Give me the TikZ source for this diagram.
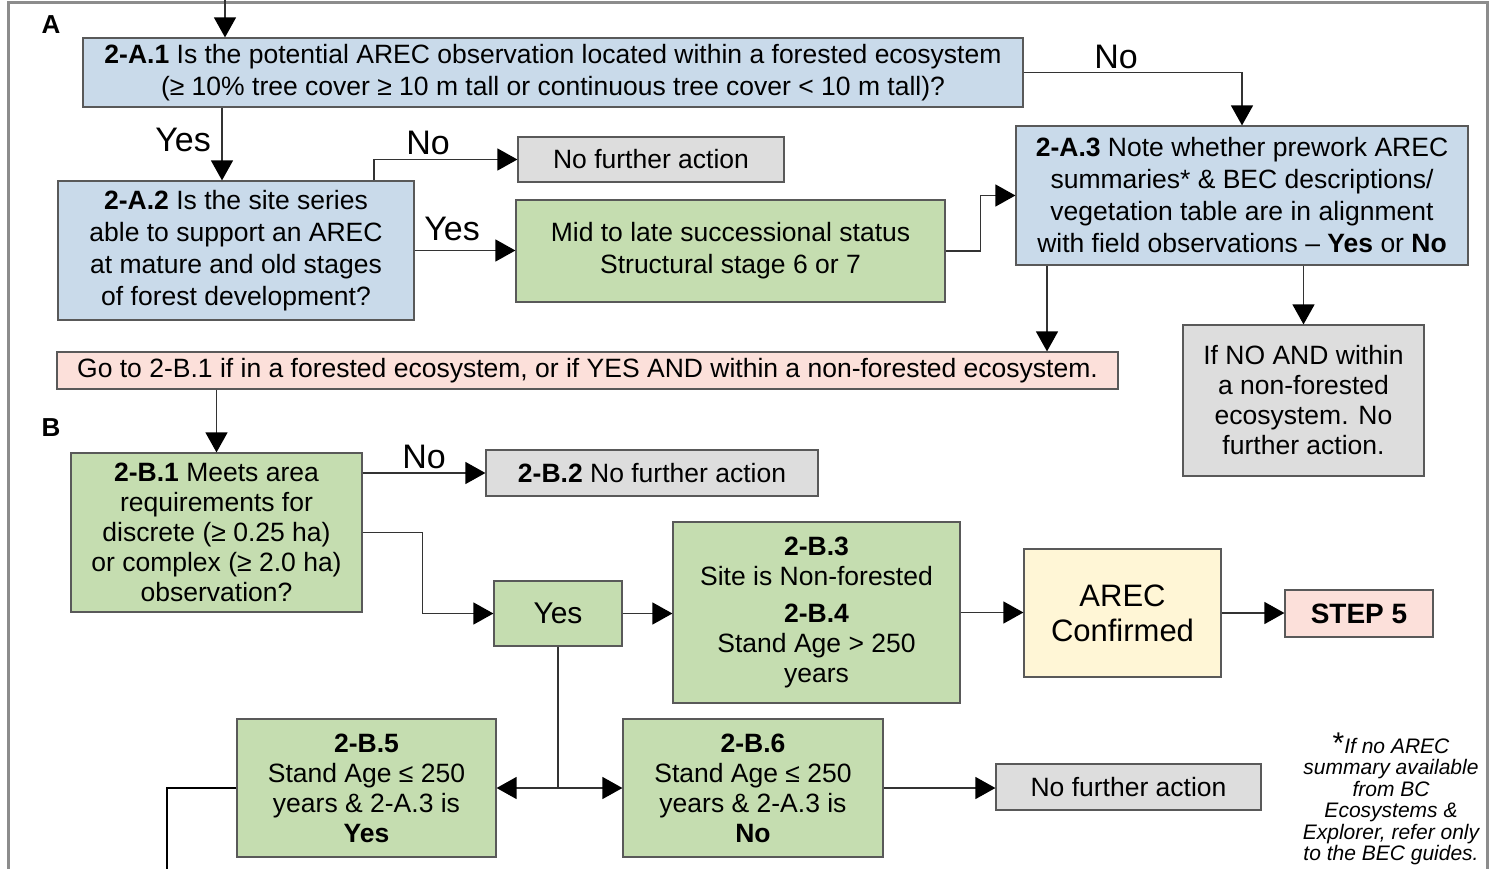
\documentclass[tikz,border=0pt]{standalone}
\usepackage{fontspec}
\setmainfont{Liberation Sans}
\usetikzlibrary{arrows.meta,positioning}

\definecolor{boxblue}{RGB}{201,218,234}
\definecolor{boxgreen}{RGB}{197,221,176}
\definecolor{boxgrey}{RGB}{221,221,221}
\definecolor{boxpink}{RGB}{252,224,218}
\definecolor{boxyellow}{RGB}{255,246,214}
\definecolor{framegrey}{RGB}{140,140,140}

\begin{document}
\begin{tikzpicture}[x=1pt,y=-1pt,->,>={Triangle[width=22pt,length=20pt,color=black]},
                    line width=1.3pt,draw=black!80,
                    box/.style={draw=black!65,line width=1.2pt,align=center,
                                inner sep=0pt,font=\fontsize{26.5}{32}\selectfont},
                    boxb/.style={box,font=\fontsize{26.5}{30}\selectfont},
                    qblue/.style={box,fill=boxblue},
                    qgreen/.style={boxb,fill=boxgreen},
                    stopbox/.style={boxb,fill=boxgrey},
                    lbl/.style={font=\fontsize{34}{34}\selectfont,inner sep=0pt},
                    part/.style={font=\fontsize{26}{26}\selectfont\bfseries,inner sep=0pt}]
    \useasboundingbox (0,0) rectangle (1497,869);

    % frame of the page
    \draw[-,framegrey,line width=3pt] (8,869) -- (8,3) -- (1487,3) -- (1487,869);
    \node[part] (partA) at (51,25)  {A};
    \node[part] (partB) at (51,428) {B};

    % part A
    \node[qblue,minimum width=940pt,minimum height=69pt]  (a1) at (553,72.5)
        {\textbf{2-A.1} Is the potential AREC observation located within a forested ecosystem\\
         (≥ 10\% tree cover ≥ 10 m tall or continuous tree cover < 10 m tall)?};
    \node[qblue,minimum width=356pt,minimum height=139pt] (a2) at (236,250.5)
        {\textbf{2-A.2} Is the site series\\ able to support an AREC\\
         at mature and old stages\\ of forest development?};
    \node[stopbox,minimum width=266pt,minimum height=45pt] (nfa1) at (651,159.5)
        {No further action};
    \node[qgreen,font=\fontsize{26.5}{32}\selectfont,minimum width=429pt,minimum height=102pt] (mid) at (730.5,251)
        {Mid to late successional status\\ Structural stage 6 or 7};
    \node[qblue,minimum width=452pt,minimum height=139pt] (a3) at (1242,195.5)
        {\textbf{2-A.3} Note whether prework AREC\\ summaries* \& BEC descriptions/\\
         vegetation table are in alignment\\ with field observations -- \textbf{Yes} or \textbf{No}};
    \node[boxb,fill=boxpink,minimum width=1061pt,minimum height=37pt] (goto) at (587.5,370.5)
        {Go to 2-B.1 if in a forested ecosystem, or if YES AND within a non-forested ecosystem.};
    \node[stopbox,minimum width=241pt,minimum height=151pt] (ano) at (1303.5,400.5)
        {If NO AND within\\ a non-forested\\ ecosystem. No\\ further action.};

    \coordinate (entry) at (225,0);
    \draw (entry) -- (entry |- a1.north);
    \draw ([xshift=-331pt]a1.south) -- ([xshift=-331pt]a1.south |- a2.north);
    \draw (a1.east) -| (a3.north);
    \draw ([xshift=138pt]a2.north) |- (nfa1.west);
    \draw (a2.east) -- (a2.east -| mid.west);
    \draw (mid.east) -- ++(35,0) |- (a3.west);
    \draw ([xshift=-195pt]a3.south) -- ([xshift=-195pt]a3.south |- goto.north);
    \draw (a3.south -| ano.north) -- (ano.north);

    \node[lbl] (yesA2) at (183,140) {Yes};
    \node[lbl] (noA1)  at (1116,57) {No};
    \node[lbl] (noA2)  at (428,143) {No};
    \node[lbl] (yesA3) at (452,229) {Yes};

    % part B
    \node[qgreen,minimum width=291pt,minimum height=159pt] (b1) at (216.5,532.5)
        {\textbf{2-B.1} Meets area\\ requirements for\\ discrete (≥ 0.25 ha)\\
         or complex (≥ 2.0 ha)\\ observation?};
    \node[stopbox,minimum width=332pt,minimum height=46pt] (b2) at (652,473)
        {\textbf{2-B.2} No further action};
    \node[qgreen,font=\fontsize{30}{30}\selectfont,minimum width=128pt,minimum height=65pt] (yes) at (558,613.5)
        {Yes};
    \node[qgreen,minimum width=287pt,minimum height=181pt] (b34) at (816.5,612.5)
        {\textbf{2-B.3}\\ Site is Non-forested\\[7pt] \textbf{2-B.4}\\ Stand Age > 250\\ years};
    \node[boxb,fill=boxyellow,font=\fontsize{31}{35}\selectfont,minimum width=197pt,minimum height=128pt] (arec) at (1122.5,613)
        {AREC\\ Confirmed};
    \node[boxb,fill=boxpink,font=\fontsize{28}{28}\selectfont\bfseries,minimum width=148pt,minimum height=47pt] (step) at (1359,613.5)
        {STEP 5};
    \node[qgreen,minimum width=259pt,minimum height=138pt] (b5) at (366.5,788)
        {\textbf{2-B.5}\\ Stand Age ≤ 250\\ years \& 2-A.3 is\\ \textbf{Yes}};
    \node[qgreen,minimum width=260pt,minimum height=138pt] (b6) at (753,788)
        {\textbf{2-B.6}\\ Stand Age ≤ 250\\ years \& 2-A.3 is\\ \textbf{No}};
    \node[stopbox,minimum width=265pt,minimum height=46pt] (nfa3) at (1128.5,787)
        {No further action};

    \draw (goto.south -| b1.north) -- (b1.north);
    \draw (b1.east |- b2.west) -- (b2.west);
    \draw (b1.east) -- ++(60,0) |- (yes.west);
    \draw (yes.east) -- (yes.east -| b34.west);
    \draw (b34.east) -- (b34.east -| arec.west);
    \draw (arec.east) -- (arec.east -| step.west);
    \draw (yes.south) |- (b5.east);
    \draw (yes.south) |- (b6.west);
    \draw (b6.east) -- (b6.east -| nfa3.west);
    \coordinate (exit) at (167,869);
    \draw[-,black,line width=2.2pt] (b5.west) -| (exit);

    \node[lbl] (noB1) at (424,457) {No};

    % footnote
    \node[align=center,inner sep=0pt,font=\fontsize{21}{21.5}\selectfont\itshape] (note) at (1391,799)
        {{\fontsize{30}{21}\selectfont\upshape *}If no AREC\\ summary available\\ from BC\\
         Ecosystems \&\\ Explorer, refer only\\ to the BEC guides.};
\end{tikzpicture}
\end{document}
